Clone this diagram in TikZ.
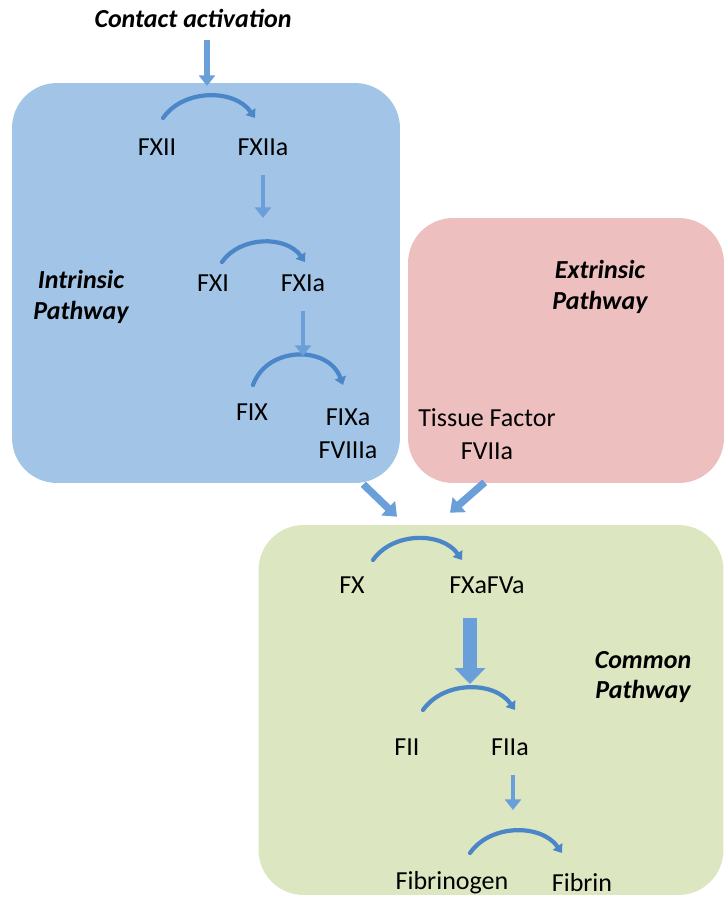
\documentclass[tikz,border=0pt]{standalone}
\usepackage{fontspec}
\setmainfont{Carlito}
\usepackage{tikz}
\usetikzlibrary{arrows.meta}
\definecolor{FigBlueBox}{HTML}{A2C4E7}
\definecolor{FigPinkBox}{HTML}{EDBFBF}
\definecolor{FigGreenBox}{HTML}{DCE6C1}
\definecolor{FigArc}{HTML}{4A86C8}
\definecolor{FigArrow}{HTML}{6A9FDA}

\begin{document}
\begin{tikzpicture}[x=0.02cm, y=0.02cm,
  pbox/.style={rounded corners=0.9cm, inner sep=0pt, minimum width=#1},
  lbl/.style={font=\fontsize{14.8}{19}\selectfont, inner sep=1pt, align=center},
  ptitle/.style={font=\fontsize{14.8}{17.5}\selectfont\bfseries\itshape, inner sep=1pt, align=center},
  react/.style={-{Triangle[length=4.5pt, width=6.5pt]}, line width=2.4pt, line cap=round, color=FigArc},
  feed/.style={-{Triangle[length=6pt, width=9pt]}, line width=2.8pt, color=FigArrow},
  bigfeed/.style={-{Triangle[length=9pt, width=17pt]}, line width=8.5pt, color=FigArrow},
  diagfeed/.style={-{Triangle[length=7pt, width=11pt]}, line width=4.2pt, color=FigArrow}
]
\useasboundingbox (0,0) rectangle (725,-897);

\node[pbox=7.76cm, minimum height=8cm, fill=FigBlueBox] (intrbox) at (206,-283) {};
\node[pbox=6.32cm, minimum height=5.3cm, fill=FigPinkBox] (extrbox) at (566,-350.5) {};
\node[pbox=9.3cm, minimum height=7.4cm, fill=FigGreenBox] (commbox) at (491,-710) {};

\node[ptitle] (contact) at (193,-18) {Contact activation};
\node[ptitle] (intr) at (81,-297) {Intrinsic\\Pathway};
\node[ptitle] (extr) at (600,-287) {Extrinsic\\Pathway};
\node[ptitle] (comm) at (643,-677) {Common\\Pathway};

\node[lbl] (fxii) at (157,-147) {FXII};
\node[lbl] (fxiia) at (263,-147) {FXIIa};
\node[lbl] (fxi) at (213,-283) {FXI};
\node[lbl] (fxia) at (303,-283) {FXIa};
\node[lbl] (fix) at (252,-412) {FIX};
\node[lbl] (fixa) at (348,-434) {FIXa\\FVIIIa};
\node[lbl] (tf) at (487,-434) {Tissue Factor\\FVIIa};
\node[lbl] (fx) at (352,-585) {FX};
\node[lbl] (fxa) at (487,-585) {FXaFVa};
\node[lbl] (fii) at (407,-747) {FII};
\node[lbl] (fiia) at (510,-747) {FIIa};
\node[lbl] (fbg) at (452,-883) {Fibrinogen};
\node[lbl] (fbn) at (582,-883) {Fibrin};

\coordinate (pk1) at (207,-86);
\coordinate (pk2) at (263,-218);
\coordinate (pk3) at (303,-356);
\coordinate (pk4) at (470,-684);
\coordinate (pk5) at (513,-810);

\draw[react] ([shift={(6,29)}]fxii.center) to[bend left=55] ([shift={(-8,29)}]fxiia.center);
\draw[react] ([shift={(9,21)}]fxi.center) to[bend left=55] ([shift={(2,21)}]fxia.center);
\draw[react] ([shift={(1,27)}]fix.center) to[bend left=70, looseness=1.2] ([shift={(-5,49)}]fixa.center);
\draw[react] ([shift={(21,25)}]fx.center) to[bend left=55] ([shift={(-25,25)}]fxa.center);
\draw[react] ([shift={(16,37)}]fii.center) to[bend left=55] ([shift={(5,37)}]fiia.center);
\draw[react] ([shift={(18,30)}]fbg.center) to[bend left=55] ([shift={(-20,30)}]fbn.center);

\draw[feed, line width=3.3pt, shorten <=6pt] (contact.south -| pk1) -- (pk1);
\draw[feed, shorten <=10pt] (fxiia.south -| pk2) -- (pk2);
\draw[feed, line width=2.4pt, shorten <=10pt] (fxia.south -| pk3) -- (pk3);
\draw[bigfeed] ([shift={(-17,-33)}]fxa.center) -- (pk4);
\draw[feed, shorten <=10pt] (fiia.south -| pk5) -- (pk5);
\draw[diagfeed] ([shift={(-37,-1)}]intrbox.south east) -- ([shift={(-94,8)}]commbox.north);
\draw[diagfeed] ([shift={(77,1)}]extrbox.south west) -- ([shift={(-41,12)}]commbox.north);
\end{tikzpicture}
\end{document}
